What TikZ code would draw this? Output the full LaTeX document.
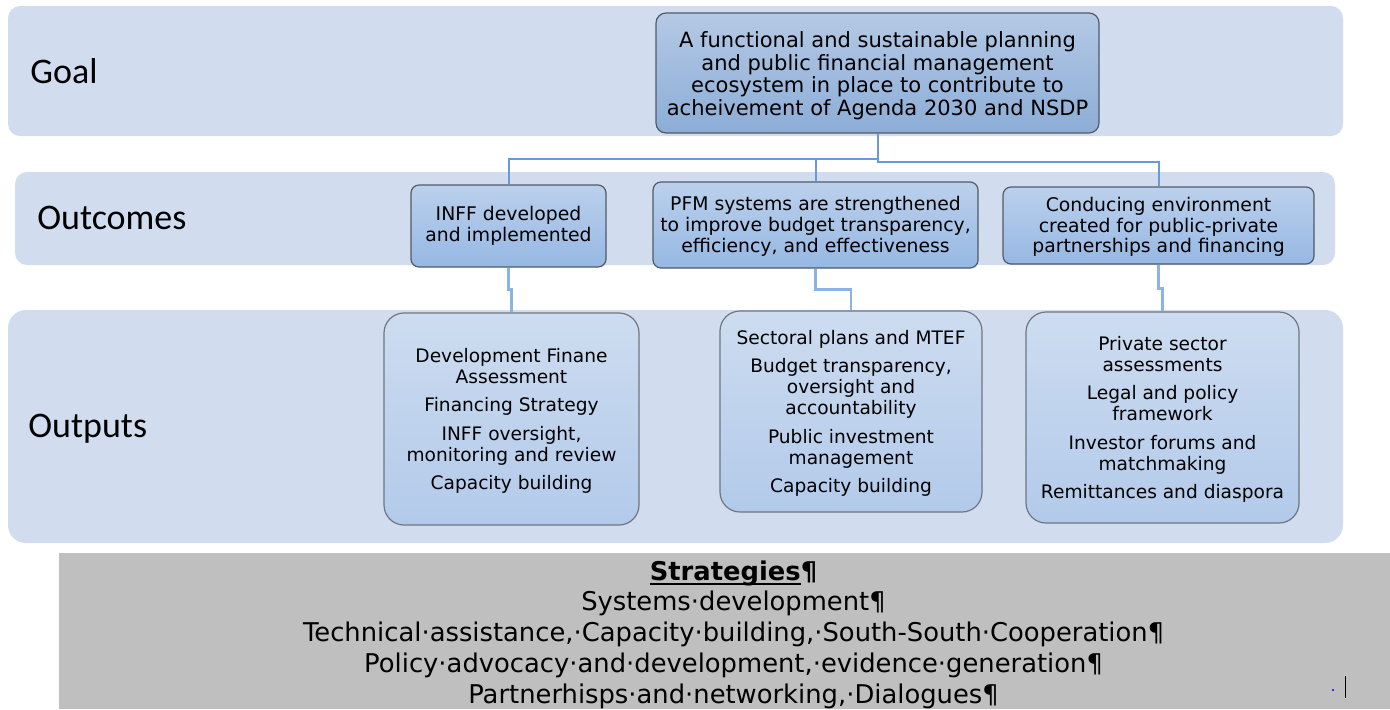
\documentclass[tikz,border=0pt]{standalone}
\usepackage{fontspec}
\setmainfont{DejaVu Sans}
\newfontfamily\labelfont{Carlito}
\usetikzlibrary{calc}

\definecolor{bandfill}{RGB}{209,221,238}
\definecolor{goaltop}{RGB}{180,201,229}
\definecolor{goalbot}{RGB}{140,173,215}
\definecolor{outctop}{RGB}{187,208,236}
\definecolor{outcbot}{RGB}{150,184,227}
\definecolor{outptop}{RGB}{205,220,240}
\definecolor{outpbot}{RGB}{178,202,234}
\definecolor{edgedark}{RGB}{80,90,104}
\definecolor{edgelight}{RGB}{110,118,130}
\definecolor{linkblue}{RGB}{105,153,215}
\definecolor{linklight}{RGB}{140,180,226}
\definecolor{stratgray}{RGB}{191,191,191}

\newcommand{\goalfont}{\fontsize{10.5}{11.3}\selectfont}
\newcommand{\outcfont}{\fontsize{9.4}{10.4}\selectfont}
\newcommand{\outpfont}{\fontsize{9.3}{10.5}\selectfont}
% underline drawn close to the baseline
\newcommand{\ulword}[1]{\setbox0\hbox{#1}\rlap{\rule[-2.4pt]{\wd0}{0.9pt}}\box0}

\tikzset{
  band/.style={fill=bandfill, draw=none, rounded corners=6pt},
  rowlabel/.style={anchor=west, inner sep=0pt, font=\labelfont\fontsize{18}{20}\selectfont},
  goalbox/.style={draw=edgedark, line width=0.6pt, rounded corners=5pt,
    top color=goaltop, bottom color=goalbot, align=center, font=\goalfont, inner sep=0pt},
  outcbox/.style={draw=edgedark, line width=0.6pt, rounded corners=4pt,
    top color=outctop, bottom color=outcbot, align=center, font=\outcfont, inner sep=0pt},
  outpbox/.style={draw=edgelight, line width=0.6pt, rounded corners=10pt,
    top color=outptop, bottom color=outpbot, align=center, font=\outpfont, inner sep=0pt},
  link/.style={draw=linkblue, line width=1pt},
  sublink/.style={draw=linklight, line width=1.2pt},
}

\begin{document}
\begin{tikzpicture}[x=0.5pt,y=-0.5pt]
\useasboundingbox (0,0) rectangle (1390,709);

% background bands for the three levels
\fill[band] (8,6) rectangle (1343,136);
\fill[band] (15,172) rectangle (1335,265);
\fill[band, rounded corners=9pt] (8,310) rectangle (1343,543);

\node[rowlabel] (lgoal) at (30,71) {Goal};
\node[rowlabel] (loutc) at (37,218) {Outcomes};
\node[rowlabel] (loutp) at (28,429) {Outputs};

% goal
\node[goalbox, minimum width=221.5pt, minimum height=60pt] (goal) at (877.5,73)
  {\rule{0pt}{10.5pt}A functional and sustainable planning\\ and public financial management\\
   ecosystem in place to contribute to\\ acheivement of Agenda 2030 and NSDP};

% outcomes
\node[outcbox, minimum width=97.5pt, minimum height=41pt] (o1) at (508.5,226)
  {INFF developed\\ and implemented};
\node[outcbox, minimum width=162.5pt, minimum height=43pt] (o2) at (815.5,225)
  {\rule{0pt}{8.5pt}PFM systems are strengthened\\ to improve budget transparency,\\ efficiency, and effectiveness};
\node[outcbox, minimum width=155.5pt, minimum height=38.5pt] (o3) at (1158.5,225.5)
  {\rule{0pt}{8.5pt}Conducing environment\\ created for public-private\\ partnerships and financing};

% outputs
\node[outpbox, minimum width=127.5pt, minimum height=106pt] (p1) at (511.5,419)
  {\rule{0pt}{9pt}Development Finane\\ Assessment\\[3.8pt] Financing Strategy\\[3.8pt]
   INFF oversight,\\ monitoring and review\\[3.8pt] Capacity building};
\node[outpbox, minimum width=131pt, minimum height=100.5pt] (p2) at (851,411.5)
  {\rule{0pt}{9pt}Sectoral plans and MTEF\\[3.8pt] Budget transparency,\\ oversight and\\ accountability\\[3.8pt]
   Public investment\\ management\\[3.8pt] Capacity building};
\node[outpbox, minimum width=136.5pt, minimum height=105.5pt] (p3) at (1162.5,417.5)
  {\rule{0pt}{9pt}Private sector\\ assessments\\[3.8pt] Legal and policy\\ framework\\[3.8pt]
   Investor forums and\\ matchmaking\\[3.8pt] Remittances and diaspora};

% goal to outcomes
\draw[link] (goal.south) -- ++(0,25) -| (o1.north);
\draw[link] (goal.south) -- ++(0,25) -| (o2.north);
\draw[link] (goal.south) -- ++(0,28) -| (o3.north);

% outcomes to outputs
\draw[sublink] (o1.south) -- ++(0,22) -| (p1.north);
\draw[sublink] (o2.south) -- ++(0,21) -| (p2.north);
\draw[sublink] (o3.south) -- ++(0,24) -| (p3.north);

% strategies panel
\fill[stratgray] (59,553) rectangle (1390,709);
\node[inner sep=0pt, align=center, anchor=north, font=\fontsize{12.9}{15.4}\selectfont] (strat) at (733.5,560)
  {\textbf{\ulword{Strategies}¶}\\
   Systems·development¶\\
   Technical·assistance,·Capacity·building,·South-South·Cooperation¶\\
   Policy·advocacy·and·development,·evidence·generation¶\\
   Partnerhisps·and·networking,·Dialogues¶};
\fill[blue] (1333,690) circle (1.2);
\draw[black, line width=0.5pt] (1345,676) -- (1345,698);
\end{tikzpicture}
\end{document}
